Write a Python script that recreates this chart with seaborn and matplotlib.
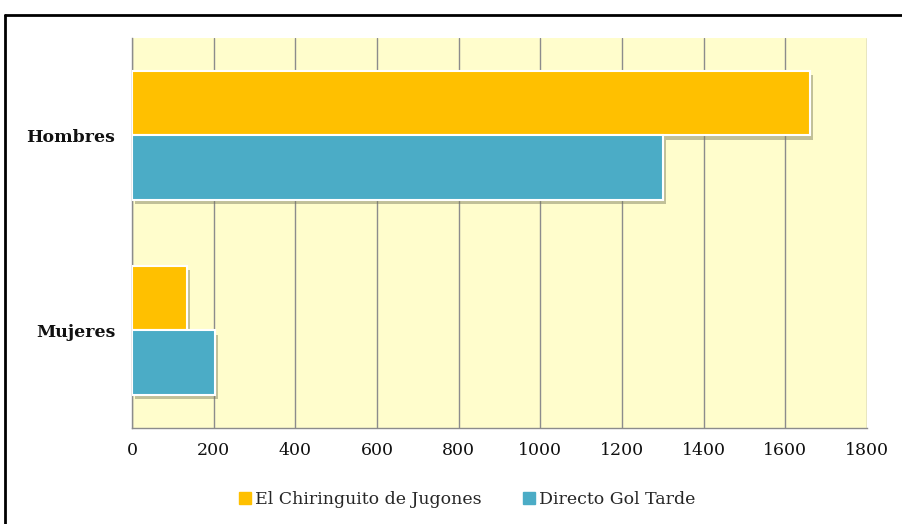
import pandas as pd
import matplotlib
matplotlib.use("Agg")
import matplotlib.pyplot as plt
import matplotlib.patheffects as pe
from matplotlib.lines import Line2D
import seaborn as sns

# --- Data ---
categories = ['Hombres', 'Mujeres']
programs = ['El Chiringuito de Jugones', 'Directo Gol Tarde']
chiringuito = [1660, 135]
gol_tarde = [1300, 203]
x_ticks = [0, 200, 400, 600, 800, 1000, 1200, 1400, 1600, 1800]

colors = ['#FFC000', '#4BACC6']

df = pd.DataFrame({
    'sexo': categories * 2,
    'programa': [programs[0]] * 2 + [programs[1]] * 2,
    'valor': chiringuito + gol_tarde,
})

sns.set_style('white')
plt.rcParams['font.family'] = ['DejaVu Serif']

fig = plt.figure(figsize=(9.03, 5.24), dpi=100)
ax = fig.add_axes([0.1462, 0.1832, 0.8139, 0.7443])
ax.set_facecolor('#FFFDCC')

sns.barplot(data=df, y='sexo', x='valor', hue='programa', order=categories,
            hue_order=programs, palette=colors, saturation=1, orient='h', width=0.66,
            edgecolor='white', linewidth=1.5, ax=ax, legend=False, zorder=3)

shadow = [pe.SimplePatchShadow(offset=(2, -3), shadow_rgbFace='#77775a', alpha=0.45), pe.Normal()]
for p in ax.patches:
    p.set_path_effects(shadow)

ax.set_xlim(0, 1800)
ax.set_ylim(1.5, -0.5)
ax.set_xticks(x_ticks)
ax.set_xticklabels([str(t) for t in x_ticks], fontsize=12.5, color='#111111')
ax.grid(axis='x', color='#8c8c8c', linewidth=1, zorder=0)
ax.set_axisbelow(True)

ax.set_yticks([0, 1])
ax.set_yticklabels(categories, fontsize=12.5, fontweight='bold', color='#111111')
ax.tick_params(axis='y', length=0, pad=12)
ax.set_yticks([-0.5, 0.5, 1.5], minor=True)
ax.tick_params(axis='y', which='minor', length=6, color='#8c8c8c', direction='out')
ax.tick_params(axis='x', length=6, color='#8c8c8c', direction='out', pad=4)
ax.set_xlabel('')
ax.set_ylabel('')

for side in ['top', 'right']:
    ax.spines[side].set_visible(False)
for side in ['left', 'bottom']:
    ax.spines[side].set_color('#8c8c8c')
    ax.spines[side].set_linewidth(1)

handles = [Line2D([0], [0], marker='s', linestyle='', markersize=8,
                  markerfacecolor=c, markeredgecolor=c) for c in colors]
fig.legend(handles, programs, loc='center', bbox_to_anchor=(0.516, 0.046), ncol=2,
           frameon=False, fontsize=12.5, handletextpad=0.1, columnspacing=2.2,
           handlelength=1.0)

# outer frame
fig.add_artist(Line2D([5 / 903, 1.0], [1 - 15 / 524, 1 - 15 / 524], color='black', linewidth=2,
                      transform=fig.transFigure))
fig.add_artist(Line2D([5 / 903, 5 / 903], [1 - 15 / 524, 0], color='black', linewidth=2,
                      transform=fig.transFigure))

fig.savefig('out.png', dpi=100, facecolor='white')
